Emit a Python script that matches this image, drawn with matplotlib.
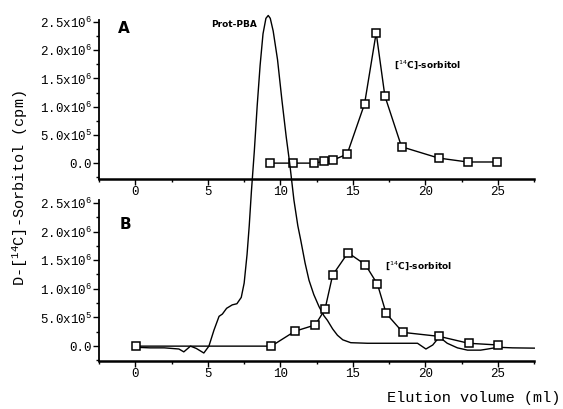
import matplotlib.pyplot as plt
from matplotlib.ticker import MultipleLocator

plt.rcParams['font.family'] = 'Liberation Mono'
plt.rcParams['mathtext.fontset'] = 'custom'
plt.rcParams['mathtext.rm'] = 'Liberation Mono'
plt.rcParams['mathtext.default'] = 'rm'

# panel A: [14C]-sorbitol
volA = [9.3, 10.9, 12.3, 13.0, 13.6, 14.6, 15.8, 16.6, 17.2, 18.35, 20.9, 22.9, 24.9]
cpmA = [0.0, 0.0, 0.0, 0.03e6, 0.05e6, 0.16e6, 1.05e6, 2.31e6, 1.19e6, 0.29e6, 0.09e6, 0.02e6, 0.02e6]

# panel B: [14C]-sorbitol
volB = [0.05, 9.37, 11.0, 12.4, 13.07, 13.6, 14.66, 15.86, 16.69, 17.29, 18.44, 20.95, 22.97, 25.0]
cpmB = [0.0, 0.0, 0.26e6, 0.37e6, 0.64e6, 1.24e6, 1.63e6, 1.42e6, 1.08e6, 0.57e6, 0.24e6, 0.17e6, 0.05e6, 0.02e6]

# panel B: Prot-PBA trace (continuous line, peak runs up into panel A)
volP = [0.05, 1.0, 2.0, 3.0, 3.34, 3.8, 4.2, 4.72, 5.07, 5.42, 5.77, 6.0, 6.29, 6.68, 7.0,
        7.3, 7.5, 7.7, 7.85, 8.0, 8.2, 8.4, 8.6, 8.8, 9.0, 9.16, 9.3, 9.5, 9.8, 10.1,
        10.4, 10.64, 10.93, 11.2, 11.4, 11.7, 11.97, 12.3, 12.66, 13.0, 13.24, 13.6,
        13.93, 14.3, 14.85, 16.0, 17.5, 19.0, 19.45, 20.03, 20.5, 20.95, 21.5, 22.2,
        22.9, 23.8, 24.3, 25.0, 26.0, 27.5]
cpmP = [-0.02e6, -0.03e6, -0.03e6, -0.05e6, -0.1e6, 0.0, -0.04e6, -0.12e6, 0.0, 0.28e6,
        0.52e6, 0.56e6, 0.66e6, 0.72e6, 0.74e6, 0.85e6, 1.1e6, 1.6e6, 2.1e6, 2.7e6,
        3.4e6, 4.2e6, 4.9e6, 5.45e6, 5.72e6, 5.77e6, 5.72e6, 5.5e6, 5.0e6, 4.3e6,
        3.65e6, 3.19e6, 2.55e6, 2.1e6, 1.85e6, 1.45e6, 1.15e6, 0.9e6, 0.69e6, 0.53e6,
        0.45e6, 0.3e6, 0.19e6, 0.11e6, 0.06e6, 0.05e6, 0.05e6, 0.05e6, 0.05e6, -0.05e6,
        0.02e6, 0.16e6, 0.05e6, -0.03e6, -0.07e6, -0.07e6, -0.05e6, -0.02e6, -0.03e6,
        -0.035e6]

yticks = [0.0, 0.5e6, 1.0e6, 1.5e6, 2.0e6, 2.5e6]
ylabels = ['0.0', '5.0x10$^5$', '1.0x10$^6$', '1.5x10$^6$', '2.0x10$^6$', '2.5x10$^6$']

fig = plt.figure(figsize=(5.63, 4.09), dpi=100)
axA = fig.add_axes([0.176, 0.562, 0.773, 0.389])
axB = fig.add_axes([0.176, 0.117, 0.773, 0.394])


def style(ax, ymin, ymax):
    ax.set_xlim(-2.5, 27.5)
    ax.set_ylim(ymin, ymax)
    ax.spines['top'].set_visible(False)
    ax.spines['right'].set_visible(False)
    ax.spines['left'].set_linewidth(1.3)
    ax.spines['bottom'].set_linewidth(1.8)
    ax.set_xticks([0, 5, 10, 15, 20, 25])
    ax.xaxis.set_minor_locator(MultipleLocator(2.5))
    ax.set_yticks(yticks)
    ax.set_yticklabels(ylabels)
    ax.yaxis.set_minor_locator(MultipleLocator(0.25e6))
    ax.tick_params(which='major', direction='out', length=4, width=1, labelsize=9, pad=1)
    ax.tick_params(which='minor', direction='out', length=2.5, width=1)
    ax.patch.set_visible(False)


style(axA, -0.284e6, 2.536e6)
style(axB, -0.262e6, 2.55e6)

axA.plot(volA, cpmA, '-s', color='black', lw=1, ms=6, mfc='white', mec='black', mew=1.1)
axB.plot(volP, cpmP, '-', color='black', lw=1, clip_on=False)
axB.plot(volB, cpmB, '-s', color='black', lw=1, ms=6, mfc='white', mec='black', mew=1.1)

axA.text(-1.2, 2.3e6, 'A', family='DejaVu Sans', fontweight='bold', fontsize=11)
axB.text(-1.1, 2.05e6, 'B', family='DejaVu Sans', fontweight='bold', fontsize=11)
axA.text(8.4, 2.46e6, 'Prot-PBA', family='DejaVu Sans', fontweight='bold', fontsize=6.5,
         ha='right', va='center')
axA.text(17.8, 1.75e6, '[$^{14}$C]-sorbitol', family='DejaVu Sans', fontweight='bold',
         fontsize=6.5, va='center', math_fontfamily='dejavusans')
axB.text(17.2, 1.4e6, '[$^{14}$C]-sorbitol', family='DejaVu Sans', fontweight='bold',
         fontsize=6.5, va='center', math_fontfamily='dejavusans')

fig.text(0.035, 0.54, 'D-[$^{14}$C]-Sorbitol (cpm)', rotation=90, ha='center', va='center',
         fontsize=11)
fig.text(0.995, 0.027, 'Elution volume (ml)', ha='right', va='center', fontsize=11)

fig.savefig('out.png', dpi=100)
